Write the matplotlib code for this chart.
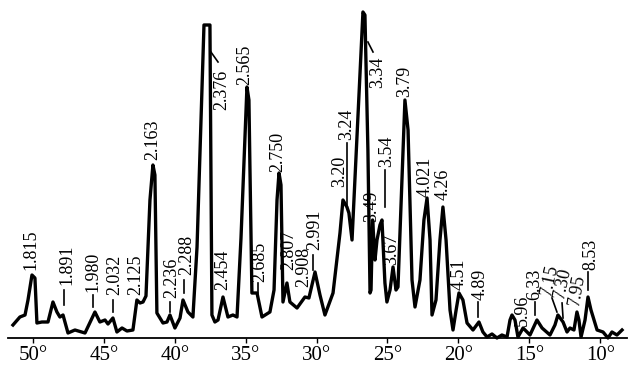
import matplotlib
matplotlib.use("Agg")
import matplotlib.pyplot as plt

# XRD pattern: 2-theta (deg) and intensity (arbitrary units)
two_theta = [51.41, 50.92, 50.56, 50.35, 50.07, 49.86, 49.72, 49.37, 48.94, 48.59,
             48.31, 48.10, 47.88, 47.53, 47.04, 46.33, 45.63, 45.28, 44.92, 44.71,
             44.36, 44.08, 43.72, 43.37, 42.95, 42.67, 42.45, 42.24, 42.03, 41.75,
             41.54, 41.40, 41.26, 40.83, 40.55, 40.34, 39.99, 39.63, 39.42, 39.07,
             38.72, 38.43, 38.15, 37.94, 37.52, 37.38, 37.17, 36.95, 36.60, 36.25,
             35.90, 35.61, 35.33, 35.12, 34.91, 34.77, 34.70, 34.56, 34.20, 33.85,
             33.29, 33.00, 32.79, 32.65, 32.51, 32.37, 32.09, 31.88, 31.38, 30.82,
             30.54, 30.11, 29.76, 29.41, 28.84, 28.35, 28.14, 27.86, 27.72, 27.50,
             27.29, 26.94, 26.73, 26.59, 26.38, 26.23, 26.16, 26.05, 25.88, 25.74,
             25.53, 25.39, 25.18, 25.04, 24.82, 24.61, 24.40, 24.26, 24.05, 23.77,
             23.55, 23.27, 23.06, 22.71, 22.43, 22.21, 22.00, 21.86, 21.58, 21.30,
             21.09, 20.87, 20.59, 20.38, 20.16, 19.96, 19.68, 19.39, 18.97, 18.55,
             18.27, 17.98, 17.63, 17.28, 16.93, 16.57, 16.36, 16.22, 16.01, 15.80,
             15.44, 14.95, 14.46, 14.10, 13.54, 13.19, 12.98, 12.62, 12.34, 12.13,
             11.85, 11.64, 11.50, 11.35, 11.07, 10.86, 10.65, 10.22, 9.80, 9.45,
             9.17, 8.82, 8.46]
intensity = [13, 21, 23, 38, 63, 60, 15, 16, 16, 36,
             26, 21, 23, 5, 8, 5, 26, 16, 18, 14,
             20, 6, 10, 7, 8, 38, 35, 36, 42, 138,
             173, 163, 25, 15, 16, 23, 10, 20, 38, 26,
             21, 91, 218, 313, 313, 23, 16, 18, 41, 21,
             23, 21, 100, 176, 251, 238, 171, 45, 45, 21,
             26, 48, 138, 165, 153, 36, 55, 36, 30, 41,
             40, 66, 43, 23, 45, 105, 138, 131, 125, 98,
             160, 264, 326, 323, 188, 45, 48, 118, 78, 98,
             113, 118, 55, 36, 48, 71, 48, 51, 131, 238,
             208, 58, 31, 58, 118, 140, 98, 23, 38, 98,
             131, 98, 28, 8, 28, 45, 38, 15, 8, 16,
             6, 1, 4, 0, 3, 1, 18, 23, 18, 1,
             10, 3, 18, 10, 3, 13, 23, 16, 6, 10,
             8, 26, 18, 1, 18, 41, 28, 8, 6, 0,
             6, 3, 8]

# d-spacing labels (Angstrom)
peak_labels = ["1.815", "1.891", "1.980", "2.032", "2.125", "2.163", "2.236", "2.288",
               "2.376", "2.454", "2.565", "2.685", "2.750", "2.807", "2.908", "2.991",
               "3.20", "3.24", "3.34", "3.49", "3.54", "3.67", "3.79", "4.021",
               "4.26", "4.51", "4.89", "5.96", "6.33", "7.15", "7.30", "7.95", "8.53"]

# layout of the labels: text position (2theta, intensity at text start), rotation
label_x = [50.14, 47.60, 45.77, 44.22, 42.74, 41.54, 40.20, 39.14,
           36.67, 36.60, 35.05, 33.99, 32.72, 31.95, 30.90, 30.11,
           28.35, 27.86, 25.67, 26.09, 25.04, 24.68, 23.77, 22.36,
           21.09, 19.96, 18.48, 15.51, 14.60, 13.54, 12.62, 11.64, 10.65]
label_y = [68, 53, 46, 43, 43, 178, 40, 63,
           228, 48, 253, 56, 166, 68, 51, 88,
           151, 198, 250, 116, 171, 73, 241, 141,
           138, 48, 38, 12, 38, 41, 38, 31, 68]
label_rot = [90] * 29 + [78, 78, 80, 90]

# leader lines ((x0, y0), (x1, y1))
leaders = [((47.81, 48), (47.81, 33)),
           ((45.77, 43), (45.77, 31)),
           ((44.36, 38), (44.36, 26)),
           ((40.34, 36), (40.34, 26)),
           ((39.35, 58), (39.35, 45)),
           ((37.45, 286), (36.95, 276)),
           ((34.13, 55), (34.13, 45)),
           ((30.25, 83), (30.25, 68)),
           ((27.86, 195), (27.86, 133)),
           ((26.38, 296), (26.02, 286)),
           ((26.02, 113), (26.02, 80)),
           ((25.18, 168), (25.18, 131)),
           ((18.62, 36), (18.62, 21)),
           ((14.60, 36), (14.60, 23)),
           ((13.40, 40), (13.05, 26)),
           ((12.69, 35), (12.62, 20)),
           ((10.86, 66), (10.86, 48))]

xticks = [50, 45, 40, 35, 30, 25, 20, 15, 10]

fig = plt.figure(figsize=(6.4, 3.74), dpi=100)
ax = fig.add_axes([8 / 640, 36 / 374, (627 - 8) / 640, 338 / 374])
ax.set_xlim(51.76, 8.11)
ax.set_ylim(0, 338)

ax.plot(two_theta, intensity, color="black", lw=2.4, solid_joinstyle="round",
        clip_on=False)

serif = ["Liberation Serif", "DejaVu Serif"]
for s, x, y, r in zip(peak_labels, label_x, label_y, label_rot):
    ax.text(x, y, s, rotation=r, ha="center", va="bottom", fontsize=13,
            family=serif, color="black")

for (x0, y0), (x1, y1) in leaders:
    ax.plot([x0, x1], [y0, y1], color="black", lw=1.2)

for side in ("top", "left", "right"):
    ax.spines[side].set_visible(False)
ax.spines["bottom"].set_linewidth(1.3)
ax.set_yticks([])
ax.set_xticks(xticks)
ax.set_xticklabels([f"{t}°" for t in xticks], family=serif, fontsize=15)
ax.tick_params(axis="x", direction="out", length=3.5, width=1.0, pad=2)

fig.savefig("out.png", dpi=100)
